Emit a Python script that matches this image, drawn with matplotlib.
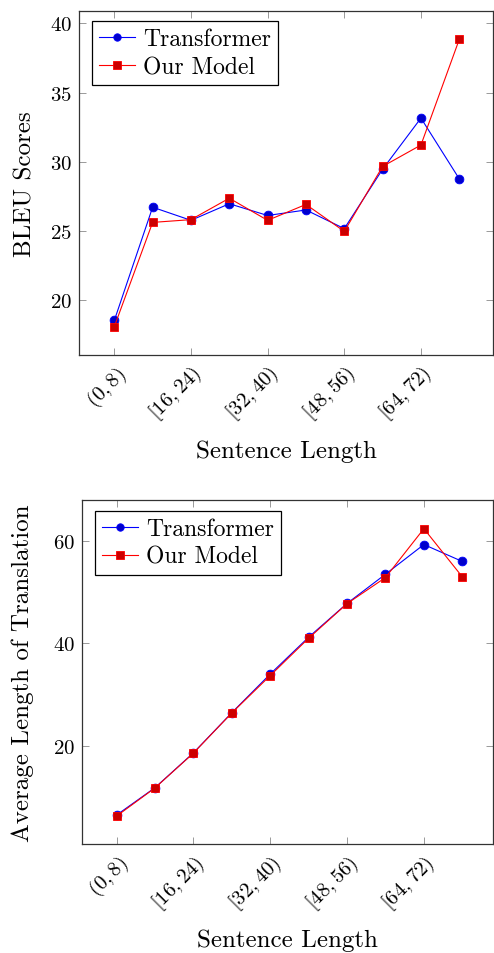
import numpy as np
import matplotlib.pyplot as plt

plt.rcParams['font.family'] = 'serif'
plt.rcParams['font.serif'] = ['cmr10', 'DejaVu Serif']
plt.rcParams['mathtext.fontset'] = 'cm'
plt.rcParams['axes.formatter.use_mathtext'] = True

# sentence length buckets (only every other one gets a label)
buckets = ["(0,8)", "[8,16)", "[16,24)", "[24,32)", "[32,40)",
           "[40,48)", "[48,56)", "[56,64)", "[64,72)", "[72,80)"]
tick_labels = [r"$(0,8)$", r"$[16,24)$", r"$[32,40)$", r"$[48,56)$", r"$[64,72)$"]

# BLEU scores
bleu_transformer = [18.5, 26.7, 25.75, 26.95, 26.1, 26.5, 25.15, 29.45, 33.15, 28.75]
bleu_ours = [18.05, 25.6, 25.8, 27.35, 25.75, 26.9, 24.95, 29.65, 31.2, 38.85]

# average length of translation
len_transformer = [6.45, 11.8, 18.6, 26.45, 34.0, 41.2, 47.8, 53.5, 59.3, 56.0]
len_ours = [6.25, 11.75, 18.55, 26.4, 33.7, 41.0, 47.75, 52.85, 62.4, 53.0]

blue_kw = dict(color='#0000ff', lw=0.8, marker='o', ms=6.3,
               mfc='#0000cc', mec='#0000ff', mew=0.6, label='Transformer')
red_kw = dict(color='#ff0000', lw=0.8, marker='s', ms=6.3,
              mfc='#cc0000', mec='#ff0000', mew=0.6, label='Our Model')

fig = plt.figure(figsize=(4.94, 9.54), dpi=100)


def style_axes(ax, ylab, yticks, xlim, ylim, leg_anchor, ypad):
    x = np.arange(len(buckets))
    ax.set_xlim(*xlim)
    ax.set_ylim(*ylim)
    ax.set_xticks(x[::2])
    ax.set_xticklabels(tick_labels, rotation=45, ha='right',
                       rotation_mode='anchor', fontsize=15)
    ax.set_yticks(yticks)
    ax.tick_params(axis='y', labelsize=15)
    ax.tick_params(direction='in', length=5, width=0.7, color='#999999',
                   top=True, right=True, pad=5)
    for s in ax.spines.values():
        s.set_linewidth(0.9)
        s.set_color('#333333')
    ax.set_xlabel('Sentence Length', fontsize=18, labelpad=11)
    ax.set_ylabel(ylab, fontsize=18, labelpad=ypad)
    leg = ax.legend(loc='upper left', bbox_to_anchor=leg_anchor,
                    borderaxespad=0, fancybox=False, edgecolor='black',
                    framealpha=1, fontsize=17, handlelength=1.5,
                    handletextpad=0.35, borderpad=0.3, labelspacing=0.25,
                    markerscale=0.85)
    leg.get_frame().set_linewidth(0.9)


# BLEU panel
ax1 = fig.add_axes([0.16, 0.6268, 0.838, 0.3606])
x = np.arange(len(buckets))
ax1.plot(x, bleu_transformer, **blue_kw)
ax1.plot(x, bleu_ours, **red_kw)
style_axes(ax1, 'BLEU Scores', [20, 25, 30, 35, 40],
           (-0.92, 9.88), (16.0, 40.9), (13 / 414, 1 - 10 / 344), 10)

# length panel
ax2 = fig.add_axes([0.166, 0.1139, 0.832, 0.3613])
ax2.plot(x, len_transformer, **blue_kw)
ax2.plot(x, len_ours, **red_kw)
style_axes(ax2, 'Average Length of Translation', [20, 40, 60],
           (-0.9, 9.8), (0.73, 68.07), (13 / 411, 1 - 11 / 345), 14)

fig.savefig('out.png', dpi=100)
